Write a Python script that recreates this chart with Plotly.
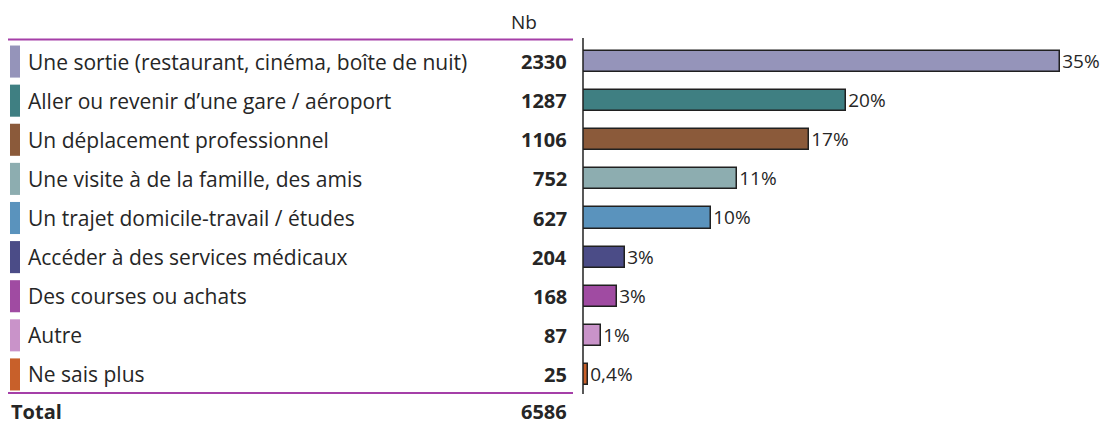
import plotly.graph_objects as go

categories = [
    "Une sortie (restaurant, cinéma, boîte de nuit)",
    "Aller ou revenir d\u2019une gare / aéroport",
    "Un déplacement professionnel",
    "Une visite à de la famille, des amis",
    "Un trajet domicile-travail / études",
    "Accéder à des services médicaux",
    "Des courses ou achats",
    "Autre",
    "Ne sais plus",
]
counts = [2330, 1287, 1106, 752, 627, 204, 168, 87, 25]
pct_labels = ["35%", "20%", "17%", "11%", "10%", "3%", "3%", "1%", "0,4%"]
colors = ["#9594BA", "#3F7F82", "#8B5A3A", "#8DADB0", "#5A93BD",
          "#4B4C87", "#A04BA2", "#C993C9", "#C8602A"]
total_label = "Total"
total_value = 6586
header = "Nb"

OFF = 8  # page body margin
W, H = 1100, 416
L, R, T, B = 583 - OFF, 8, 42 - OFF, 30
pw = W - L - R
ph = H - T - B
FONT = "Open Sans, sans-serif"
TXT = "#262626"

def px_x(x):
    return (x - OFF - L) / pw

def px_y(y):
    return 1 - (y - OFF - T) / ph

ypos = list(range(len(categories)))

fig = go.Figure()
fig.add_trace(go.Bar(
    x=counts, y=ypos, orientation="h",
    marker=dict(color=colors, line=dict(color="#202020", width=1.5)),
    width=0.54,
    text=pct_labels, textposition="outside", cliponaxis=False,
    constraintext="none",
    textfont=dict(family=FONT, size=19, color=TXT),
    hoverinfo="skip",
))

annotations = []
shapes = []
for i, (cat, n, c) in enumerate(zip(categories, counts, colors)):
    annotations.append(dict(
        x=px_x(26), y=i, xref="paper", yref="y", text=cat,
        xanchor="left", yanchor="middle", showarrow=False,
        font=dict(family=FONT, size=21, color=TXT)))
    annotations.append(dict(
        x=px_x(569), y=i, xref="paper", yref="y", text="<b>%d</b>" % n,
        xanchor="right", yanchor="middle", showarrow=False,
        font=dict(family=FONT, size=20, color=TXT)))
    shapes.append(dict(
        type="rect", xref="paper", yref="y",
        x0=px_x(10), x1=px_x(20), y0=i - 0.41, y1=i + 0.41,
        fillcolor=c, line=dict(width=0)))

annotations.append(dict(
    x=px_x(524), y=px_y(22), xref="paper", yref="paper", text=header,
    xanchor="center", yanchor="middle", showarrow=False,
    font=dict(family=FONT, size=19, color=TXT)))
annotations.append(dict(
    x=px_x(9), y=px_y(411), xref="paper", yref="paper", text="<b>%s</b>" % total_label,
    xanchor="left", yanchor="middle", showarrow=False,
    font=dict(family=FONT, size=20, color=TXT)))
annotations.append(dict(
    x=px_x(569), y=px_y(411), xref="paper", yref="paper", text="<b>%d</b>" % total_value,
    xanchor="right", yanchor="middle", showarrow=False,
    font=dict(family=FONT, size=20, color=TXT)))

for yy in (39.5, 393):
    shapes.append(dict(type="line", xref="paper", yref="paper",
                       x0=px_x(8), x1=px_x(573), y0=px_y(yy), y1=px_y(yy),
                       line=dict(color="#A53FA8", width=2)))
# vertical axis line
shapes.append(dict(type="line", xref="paper", yref="paper",
                   x0=0, x1=0, y0=px_y(38), y1=px_y(394),
                   line=dict(color="#202020", width=1.5)))

fig.update_layout(
    width=W, height=H,
    margin=dict(l=L, r=R, t=T, b=B),
    paper_bgcolor="white", plot_bgcolor="white",
    showlegend=False,
    xaxis=dict(range=[0, 2528], visible=False, fixedrange=True),
    yaxis=dict(range=[len(categories) - 0.5, -0.5], visible=False, fixedrange=True),
    annotations=annotations, shapes=shapes,
    bargap=0,
)

fig.write_html("out.html", config={"displayModeBar": False})
